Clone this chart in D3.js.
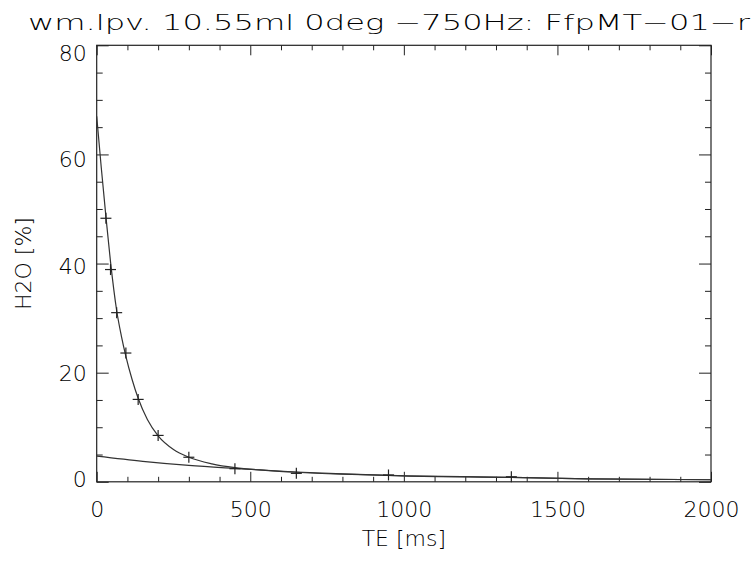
<!DOCTYPE html>
<html>
<head>
<meta charset="utf-8">
<script src="https://cdn.jsdelivr.net/npm/d3@7"></script>
<style>
  body { margin: 0; background: #fff; }
  svg { display: block; }
  text { font-family: "DejaVu Sans", sans-serif; font-weight: 200; fill: #000; }
  .axis path { display: none; }
  .axis line { stroke: #222; stroke-width: 1; }
</style>
</head>
<body>
<div id="chart"></div>
<script>
// measured points (crosses)
var teMeas  = [30, 45, 65, 95, 135, 200, 300, 450, 650, 950, 1350];
var h2oMeas = [48.3, 38.9, 31.0, 23.6, 15.1, 8.5, 4.5, 2.4, 1.55, 1.25, 0.92];

// fitted total curve
var fitTE  = [0, 15, 30, 45, 65, 80, 95, 115, 135, 165, 200, 250, 300, 375, 450, 550, 650, 800, 1000, 1350, 1600, 2000];
var fitH2O = [67.0, 57.5, 48.6, 40.3, 31.4, 26.8, 23.0, 18.8, 15.3, 11.4, 8.4, 5.9, 4.5, 3.3, 2.6, 2.1, 1.75, 1.4, 1.1, 0.82, 0.55, 0.38];

// slow component line
var slowTE  = [0, 150, 300, 450, 650, 800, 1000, 1350, 1600, 2000];
var slowH2O = [4.7, 3.75, 3.0, 2.45, 1.8, 1.45, 1.1, 0.82, 0.55, 0.38];

var xMajor = [0, 500, 1000, 1500, 2000];
var yMajor = [0, 20, 40, 60, 80];

var titleText = "wm.lpv. 10.55ml 0deg \u2212750Hz: FfpMT\u221201\u2212r";

var width = 752, height = 561;
var plotLeft = 96.7, plotRight = 711, plotTop = 45.3, plotBottom = 481.8;

var svg = d3.select("#chart").append("svg")
  .attr("width", width)
  .attr("height", height);

/* Scales */
var xScale = d3.scaleLinear().domain([0, 2000]).range([plotLeft, plotRight]);
var yScale = d3.scaleLinear().domain([0, 80]).range([plotBottom, plotTop]);

var xMinor = d3.range(0, 2001, 100).filter(d => d % 500 !== 0);
var yMinor = d3.range(0, 81, 5).filter(d => d % 20 !== 0);

/* Axes: majors with labels, minors without */
svg.append("g").attr("class", "axis")
  .attr("transform", `translate(0, ${plotBottom})`)
  .call(d3.axisBottom(xScale).tickValues(xMajor).tickSize(-10).tickPadding(20)
    .tickFormat(d3.format("d")))
  .selectAll("text").style("font-size", "22px");

svg.append("g").attr("class", "axis")
  .attr("transform", `translate(0, ${plotBottom})`)
  .call(d3.axisBottom(xScale).tickValues(xMinor).tickSize(-5).tickFormat(""));

svg.append("g").attr("class", "axis")
  .attr("transform", `translate(0, ${plotTop})`)
  .call(d3.axisTop(xScale).tickValues(xMajor).tickSize(-10).tickFormat(""));

svg.append("g").attr("class", "axis")
  .attr("transform", `translate(0, ${plotTop})`)
  .call(d3.axisTop(xScale).tickValues(xMinor).tickSize(-5).tickFormat(""));

// y labels sit a little lower toward the top, as in the original
svg.append("g").attr("class", "axis")
  .attr("transform", `translate(${plotLeft}, 0)`)
  .call(d3.axisLeft(yScale).tickValues(yMajor).tickSize(-12).tickPadding(10)
    .tickFormat(d3.format("d")))
  .selectAll("text")
  .style("font-size", "22px")
  .attr("y", d => -2 + 10 * d / 80);

svg.append("g").attr("class", "axis")
  .attr("transform", `translate(${plotLeft}, 0)`)
  .call(d3.axisLeft(yScale).tickValues(yMinor).tickSize(-6).tickFormat(""));

svg.append("g").attr("class", "axis")
  .attr("transform", `translate(${plotRight}, 0)`)
  .call(d3.axisRight(yScale).tickValues(yMajor).tickSize(-12).tickFormat(""));

svg.append("g").attr("class", "axis")
  .attr("transform", `translate(${plotRight}, 0)`)
  .call(d3.axisRight(yScale).tickValues(yMinor).tickSize(-6).tickFormat(""));

/* Frame */
svg.append("rect")
  .attr("x", plotLeft).attr("y", plotTop)
  .attr("width", plotRight - plotLeft).attr("height", plotBottom - plotTop)
  .attr("fill", "none").attr("stroke", "#222").attr("stroke-width", 1.2);

/* Lines */
var line = d3.line()
  .x(d => xScale(d[0]))
  .y(d => yScale(d[1]))
  .curve(d3.curveMonotoneX);

svg.append("path")
  .datum(d3.zip(slowTE, slowH2O))
  .attr("d", line)
  .attr("fill", "none").attr("stroke", "#333").attr("stroke-width", 1.2);

svg.append("path")
  .datum(d3.zip(fitTE, fitH2O))
  .attr("d", line)
  .attr("fill", "none").attr("stroke", "#333").attr("stroke-width", 1.2);

/* Crosses */
var cs = 5.5;
var crosses = svg.append("g").attr("stroke", "#222").attr("stroke-width", 1.2);
d3.zip(teMeas, h2oMeas).forEach(function(d) {
  var cx = xScale(d[0]), cy = yScale(d[1]);
  crosses.append("line").attr("x1", cx - cs).attr("x2", cx + cs).attr("y1", cy).attr("y2", cy);
  crosses.append("line").attr("x1", cx).attr("x2", cx).attr("y1", cy - cs).attr("y2", cy + cs);
});

/* Labels */
svg.append("text")
  .attr("x", 28).attr("y", 30)
  .attr("textLength", 722).attr("lengthAdjust", "spacingAndGlyphs")
  .style("font-size", "21px")
  .text(titleText);

svg.append("text")
  .attr("x", (plotLeft + plotRight) / 2).attr("y", 546)
  .attr("text-anchor", "middle")
  .style("font-size", "22px")
  .text("TE [ms]");

svg.append("text")
  .attr("transform", `translate(31, ${(plotTop + plotBottom) / 2}) rotate(-90)`)
  .attr("text-anchor", "middle")
  .style("font-size", "22px")
  .text("H2O [%]");
</script>
</body>
</html>
